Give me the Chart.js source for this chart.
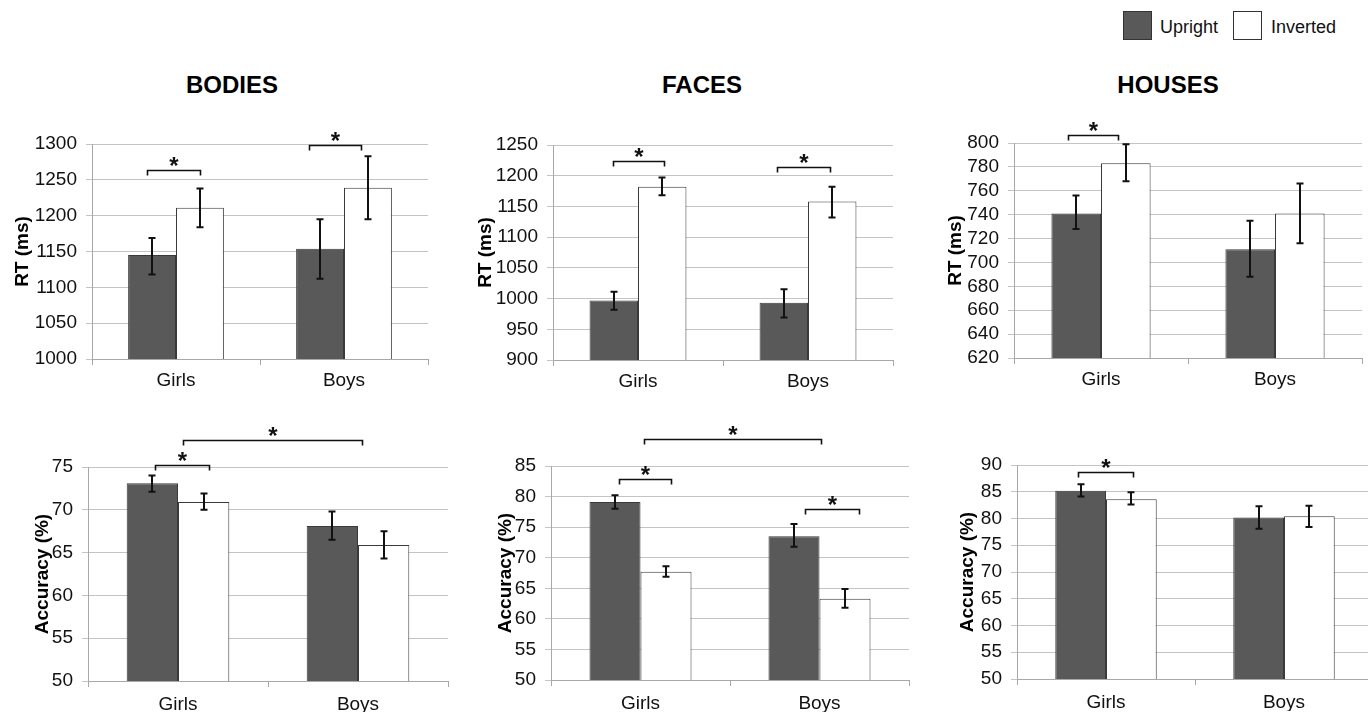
<!DOCTYPE html>
<html><head><meta charset="utf-8">
<script src="https://cdn.jsdelivr.net/npm/chart.js@4.4.1/dist/chart.umd.min.js"></script>
<style>
html,body{margin:0;padding:0;background:#fff;overflow:hidden;width:1368px;height:712px;}
body{position:relative;font-family:"Liberation Sans",Arial,sans-serif;color:#000;}
.panel{position:absolute;}
.ptitle{position:absolute;width:300px;text-align:center;font-weight:bold;font-size:24px;line-height:28px;}
.lbox{position:absolute;width:27px;height:27px;border:1px solid #333;}
.ltxt{position:absolute;font-size:18px;line-height:22px;color:#111;}
</style></head><body>
<div class="ptitle" style="left:82px;top:71px">BODIES</div>
<div class="ptitle" style="left:552px;top:71px">FACES</div>
<div class="ptitle" style="left:1018px;top:71px">HOUSES</div>
<div class="lbox" style="left:1123px;top:11px;background:#595959"></div>
<div class="ltxt" style="left:1160px;top:16px">Upright</div>
<div class="lbox" style="left:1233px;top:11px;background:#fff"></div>
<div class="ltxt" style="left:1271px;top:16px">Inverted</div>
<script>
// ---------- DATA ----------
const categories = ['Girls', 'Boys'];
const seriesNames = ['Upright', 'Inverted'];

// RT (ms)
const bodiesRtUpright      = [1145, 1154];
const bodiesRtUprightLow   = [1118, 1112];
const bodiesRtUprightHigh  = [1169, 1195];
const bodiesRtInverted     = [1211, 1239];
const bodiesRtInvertedLow  = [1184, 1195];
const bodiesRtInvertedHigh = [1238, 1283];

const facesRtUpright      = [997, 993];
const facesRtUprightLow   = [982, 969];
const facesRtUprightHigh  = [1011, 1015];
const facesRtInverted     = [1182, 1158];
const facesRtInvertedLow  = [1168, 1132];
const facesRtInvertedHigh = [1197, 1182];

const housesRtUpright      = [741, 711];
const housesRtUprightLow   = [728, 688];
const housesRtUprightHigh  = [756, 735];
const housesRtInverted     = [783, 741];
const housesRtInvertedLow  = [768, 716];
const housesRtInvertedHigh = [799, 766];

// Accuracy (%)
const bodiesAccUpright      = [73.1, 68.1];
const bodiesAccUprightLow   = [72.1, 66.5];
const bodiesAccUprightHigh  = [74.0, 69.8];
const bodiesAccInverted     = [70.9, 65.9];
const bodiesAccInvertedLow  = [70.0, 64.3];
const bodiesAccInvertedHigh = [71.9, 67.5];

const facesAccUpright      = [79.1, 73.5];
const facesAccUprightLow   = [78.0, 71.8];
const facesAccUprightHigh  = [80.2, 75.5];
const facesAccInverted     = [67.7, 63.3];
const facesAccInvertedLow  = [66.9, 61.8];
const facesAccInvertedHigh = [68.6, 64.9];

const housesAccUpright      = [85.2, 80.2];
const housesAccUprightLow   = [84.1, 78.1];
const housesAccUprightHigh  = [86.4, 82.3];
const housesAccInverted     = [83.6, 80.4];
const housesAccInvertedLow  = [82.6, 78.4];
const housesAccInvertedHigh = [84.9, 82.4];

// y-axis tick ranges [min, max, step]
const bodiesRtTicks  = [1000, 1300, 50];
const facesRtTicks   = [900, 1250, 50];
const housesRtTicks  = [620, 800, 20];
const bodiesAccTicks = [50, 75, 5];
const facesAccTicks  = [50, 85, 5];
const housesAccTicks = [50, 90, 5];

// significance brackets: [from (category units), to (category units), level (value)]
const bodiesRtSig  = [[-0.17, 0.14, 1264], [0.79, 1.10, 1299]];
const facesRtSig   = [[-0.15, 0.15, 1224], [0.82, 1.13, 1214]];
const housesRtSig  = [[-0.19, 0.10, 807]];
const bodiesAccSig = [[-0.13, 0.17, 75.2], [0.03, 1.02, 78.2]];
const facesAccSig  = [[-0.12, 0.17, 82.8], [0.92, 1.22, 77.9], [0.02, 1.01, 89.4]];
const housesAccSig = [[-0.16, 0.15, 88.7]];

// ---------- DRAWING ----------
const FONT = '"Liberation Sans", Arial, sans-serif';
Chart.defaults.font.family = FONT;
Chart.defaults.color = '#111';

const errorBarPlugin = {
  id: 'errbars',
  afterDatasetsDraw(chart) {
    const ctx = chart.ctx, ys = chart.scales.y;
    chart.data.datasets.forEach((ds, di) => {
      const meta = chart.getDatasetMeta(di);
      meta.data.forEach((el, i) => {
        const x = Math.round(el.x);
        const y1 = ys.getPixelForValue(ds.errLow[i]);
        const y2 = ys.getPixelForValue(ds.errHigh[i]);
        ctx.save();
        ctx.strokeStyle = '#111';
        ctx.lineWidth = 2;
        ctx.beginPath();
        ctx.moveTo(x, y1); ctx.lineTo(x, y2);
        ctx.moveTo(x - 3.5, y1); ctx.lineTo(x + 3.5, y1);
        ctx.moveTo(x - 3.5, y2); ctx.lineTo(x + 3.5, y2);
        ctx.stroke();
        ctx.restore();
      });
    });
  }
};

function bracketPlugin(items) {
  return {
    id: 'sigbrackets',
    afterDatasetsDraw(chart) {
      const ctx = chart.ctx, xs = chart.scales.x, ys = chart.scales.y;
      items.forEach(([a, b, v]) => {
        const x1 = Math.round(xs.getPixelForValue(a)) + 0.5;
        const x2 = Math.round(xs.getPixelForValue(b)) + 0.5;
        const y = Math.round(ys.getPixelForValue(v)) + 0.5;
        ctx.save();
        ctx.strokeStyle = '#111';
        ctx.lineWidth = 1.6;
        ctx.beginPath();
        ctx.moveTo(x1, y + 5); ctx.lineTo(x1, y); ctx.lineTo(x2, y); ctx.lineTo(x2, y + 5);
        ctx.stroke();
        ctx.fillStyle = '#111';
        ctx.font = 'bold 24px ' + FONT;
        ctx.textAlign = 'center';
        ctx.textBaseline = 'alphabetic';
        ctx.fillText('*', (x1 + x2) / 2, y + 3);
        ctx.restore();
      });
    }
  };
}

const panels = [
  { up: bodiesRtUpright, upLo: bodiesRtUprightLow, upHi: bodiesRtUprightHigh,
    inv: bodiesRtInverted, invLo: bodiesRtInvertedLow, invHi: bodiesRtInvertedHigh,
    ticks: bodiesRtTicks, sig: bodiesRtSig, yTitle: 'RT (ms)',
    g: { left: 92, right: 428, top: 144, bottom: 359, titleX: 22, xpad: 4 } },
  { up: facesRtUpright, upLo: facesRtUprightLow, upHi: facesRtUprightHigh,
    inv: facesRtInverted, invLo: facesRtInvertedLow, invHi: facesRtInvertedHigh,
    ticks: facesRtTicks, sig: facesRtSig, yTitle: 'RT (ms)',
    g: { left: 553, right: 893, top: 145, bottom: 360, titleX: 485, xpad: 4 } },
  { up: housesRtUpright, upLo: housesRtUprightLow, upHi: housesRtUprightHigh,
    inv: housesRtInverted, invLo: housesRtInvertedLow, invHi: housesRtInvertedHigh,
    ticks: housesRtTicks, sig: housesRtSig, yTitle: 'RT (ms)',
    g: { left: 1014, right: 1362, top: 143, bottom: 358, titleX: 955, xpad: 4 } },
  { up: bodiesAccUpright, upLo: bodiesAccUprightLow, upHi: bodiesAccUprightHigh,
    inv: bodiesAccInverted, invLo: bodiesAccInvertedLow, invHi: bodiesAccInvertedHigh,
    ticks: bodiesAccTicks, sig: bodiesAccSig, yTitle: 'Accuracy (%)',
    g: { left: 88, right: 448, top: 467, bottom: 681, titleX: 42, xpad: 6 } },
  { up: facesAccUpright, upLo: facesAccUprightLow, upHi: facesAccUprightHigh,
    inv: facesAccInverted, invLo: facesAccInvertedLow, invHi: facesAccInvertedHigh,
    ticks: facesAccTicks, sig: facesAccSig, yTitle: 'Accuracy (%)',
    g: { left: 551, right: 909, top: 466, bottom: 680, titleX: 505, xpad: 6 } },
  { up: housesAccUpright, upLo: housesAccUprightLow, upHi: housesAccUprightHigh,
    inv: housesAccInverted, invLo: housesAccInvertedLow, invHi: housesAccInvertedHigh,
    ticks: housesAccTicks, sig: housesAccSig, yTitle: 'Accuracy (%)',
    g: { left: 1017, right: 1373, top: 465, bottom: 679, titleX: 967, xpad: 6 } }
];

const TOPPAD = 50, XH = 32;
const GRID = '#c4c4c4', AXIS = '#a8a8a8';

panels.forEach((p) => {
  const g = p.g;
  const cl = Math.round(g.titleX - 11.4);
  const ct = g.top - TOPPAD;
  const w = g.right - cl + 1;
  const h = g.bottom - ct + XH;
  const div = document.createElement('div');
  div.className = 'panel';
  div.style.left = cl + 'px';
  div.style.top = ct + 'px';
  div.style.width = w + 'px';
  div.style.height = h + 'px';
  const cv = document.createElement('canvas');
  div.appendChild(cv);
  document.body.appendChild(div);

  new Chart(cv, {
    type: 'bar',
    data: {
      labels: categories,
      datasets: [
        { label: seriesNames[0], data: p.up, errLow: p.upLo, errHigh: p.upHi,
          backgroundColor: '#595959', borderColor: '#3a3a3a', borderWidth: 1,
          categoryPercentage: 0.57, barPercentage: 1 },
        { label: seriesNames[1], data: p.inv, errLow: p.invLo, errHigh: p.invHi,
          backgroundColor: '#ffffff', borderColor: '#3a3a3a', borderWidth: 1,
          categoryPercentage: 0.57, barPercentage: 1 }
      ]
    },
    options: {
      responsive: true,
      maintainAspectRatio: false,
      animation: false,
      events: [],
      layout: { padding: { top: TOPPAD, right: 1, left: 0, bottom: 0 } },
      plugins: { legend: { display: false }, title: { display: false }, tooltip: { enabled: false } },
      scales: {
        x: {
          afterFit: (s) => { s.height = XH; },
          grid: { drawOnChartArea: false, drawTicks: true, tickLength: 6, color: AXIS, offset: true },
          border: { color: AXIS, width: 1 },
          ticks: { font: { size: 19 }, color: '#111', padding: g.xpad, maxRotation: 0 }
        },
        y: {
          min: p.ticks[0], max: p.ticks[1],
          afterFit: (s) => { s.width = g.left - cl; },
          grid: { color: GRID, tickLength: 6, drawTicks: true },
          border: { color: AXIS, width: 1 },
          ticks: { stepSize: p.ticks[2], autoSkip: false, font: { size: 19 }, color: '#111', padding: 9,
                   callback: (v) => String(v) },
          title: { display: true, text: p.yTitle, font: { size: 19, weight: 'bold' }, color: '#000', padding: 0 }
        }
      }
    },
    plugins: [errorBarPlugin, bracketPlugin(p.sig)]
  });
});
</script>
</body></html>
